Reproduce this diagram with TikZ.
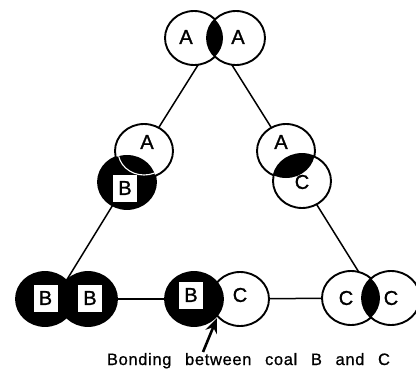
\documentclass[tikz,border=0pt]{standalone}
\usepackage{fontspec}
\usetikzlibrary{shapes.geometric,arrows.meta,backgrounds}
\newfontfamily\lblfont[FakeBold=1.2]{Liberation Sans}
\newfontfamily\captfont[LetterSpace=4,WordSpace=2.6,FakeBold=0.8]{Liberation Sans}
\tikzset{
  ball/.style={ellipse, draw, line width=1.9pt, fill=white, minimum width=58pt, minimum height=54pt, inner sep=0pt},
  dark/.style={ball, fill=black},
  lbl/.style={inner sep=0pt, font=\lblfont\fontsize{20}{20}\selectfont},
  tag/.style={lbl, fill=white, minimum width=24pt, minimum height=27pt},
  link/.style={line width=1.5pt},
}
\newcommand{\lensfill}[2]{%
  \begin{scope}
    \clip (#1) ellipse [x radius=29pt, y radius=27pt];
    \fill[black] (#2) ellipse [x radius=29pt, y radius=27pt];
  \end{scope}}
\begin{document}
\begin{tikzpicture}[x=1pt,y=-1pt]
\useasboundingbox (0,0) rectangle (416,372);
% circles
\node[ball] (T1) at (194,38) {};
\node[ball] (T2) at (236,38) {};
\lensfill{T1.center}{T2.center}
\node[dark] (MLB) at (127,182) {};
\node[ball] (MLA) at (144,151) {};
\lensfill{MLA.center}{MLB.center}
\begin{scope}
  \clip (MLB.center) ellipse [x radius=29pt, y radius=27pt];
  \draw[white, line width=1.1pt] (MLA.center) ellipse [x radius=26pt, y radius=24pt];
\end{scope}
\node[ball] (MRA) at (286,151) {};
\node[ball] (MRC) at (302,181) {};
\lensfill{MRA.center}{MRC.center}
\node[dark] (BB1) at (45,299) {};
\node[dark] (BB2) at (88,299) {};
\node[ball] (C1) at (240,299) {};
\node[dark] (B3) at (194,299) {};
\node[ball] (C2) at (351,298) {};
\node[ball] (C3) at (391,298) {};
\lensfill{C2.center}{C3.center}
% junctions
\coordinate (Tj) at (215,38);
\coordinate (BBj) at (55,299);
\coordinate (CCj) at (375,298);
% connectors
\begin{scope}[on background layer]
  \draw[link] (Tj) -- (MLA.center);
  \draw[link] (Tj) -- (MRA.center);
  \draw[link] (MLB.center) -- (BBj);
  \draw[link] (BB2.center) -- (B3.center);
  \draw[link] (C1.center) -- (C2.center);
  \draw[link] (MRC.center) -- (CCj);
\end{scope}
% labels
\node[lbl] (lT1) at (186,37) {A};
\node[lbl] (lT2) at (238,37) {A};
\node[lbl] (lMLA) at (147,142) {A};
\node[tag] (lMLB) at (125,188) {B};
\node[lbl] (lMRA) at (281,142) {A};
\node[lbl] (lMRC) at (302,182) {C};
\node[tag] (lBB1) at (45.5,298) {B};
\node[tag] (lBB2) at (90,298) {B};
\node[tag] (lB3) at (191,295) {B};
\node[lbl] (lC1) at (240,295) {C};
\node[lbl] (lC2) at (346,298) {C};
\node[lbl] (lC3) at (391,298) {C};
% caption and arrow
\node[anchor=base, inner sep=0pt, font=\captfont\fontsize{16.5}{16.5}\selectfont] (cap) at (248.5,365) {Bonding between coal B and C};
\coordinate (arrtail) at (203,352);
\coordinate (arrtip) at (217,318);
\draw[line width=2.6pt, -{Stealth[length=15pt,width=12pt,inset=5pt]}] (arrtail) -- (arrtip);
\end{tikzpicture}
\end{document}
